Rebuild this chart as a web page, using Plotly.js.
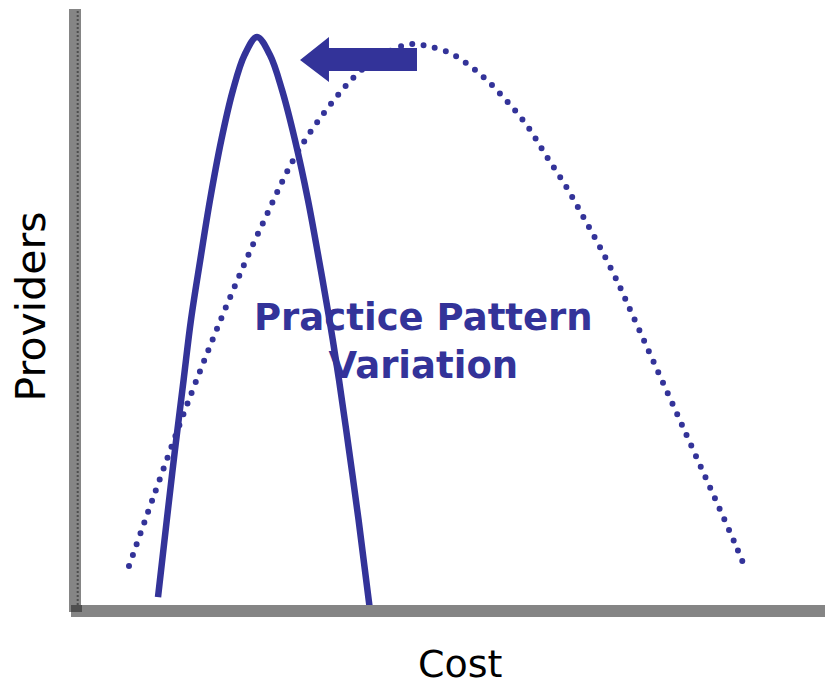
<!DOCTYPE html>
<html>
<head>
<meta charset="utf-8">
<script src="https://cdn.plot.ly/plotly-3.0.1.min.js"></script>
<style>
  html, body { margin: 0; padding: 0; background: #ffffff; }
  #chart { width: 825px; height: 685px; }
  /* round caps turn the zero-length dashes of the wider curve into dots */
  .scatterlayer .trace:nth-of-type(2) path.js-line { stroke-linecap: round; }
</style>
</head>
<body>
<div id="chart"></div>
<script>
// Narrow distribution: provider counts by cost after the shift
const narrowCost = [10.35, 11.53, 12.63, 13.79, 14.78, 16.03, 17.34, 18.86, 20.43, 21.98, 23.66,
                    25.40, 27.02, 28.76, 30.51, 31.99, 33.40, 34.68, 36.02, 37.31, 38.84];
const narrowProviders = [1.34, 14.26, 26.01, 37.75, 47.82, 57.89, 67.95, 78.02, 86.41, 92.28, 95.30,
                         92.28, 86.41, 78.02, 67.95, 57.89, 47.82, 37.75, 26.01, 14.26, -0.84];

// Wide distribution: current practice pattern variation
const wideCost = [6.45, 9.68, 14.65, 19.49, 24.33, 29.70, 36.56, 39.92, 41.80, 43.55,
                  44.89, 46.51, 49.60, 53.63, 56.99, 60.08, 62.63, 65.32, 67.74, 70.03,
                  72.18, 73.52, 80.78, 88.04, 89.25];
const wideProviders = [6.54, 17.95, 34.9, 50.0, 63.76, 77.18, 88.42, 91.78, 93.12, 93.96,
                       94.13, 93.79, 92.62, 89.09, 84.90, 80.20, 75.17, 69.97, 64.60, 59.40,
                       54.03, 50.34, 30.20, 9.90, 6.21];

// Labels
const xLabel = 'Cost';
const yLabel = 'Providers';
const centerLabel = 'Practice Pattern<br>Variation';

const BLUE = '#333399';
const AXIS_GRAY = '#858585';

const traces = [
  {
    x: narrowCost, y: narrowProviders,
    type: 'scatter', mode: 'lines',
    line: { color: BLUE, width: 6.5, shape: 'spline', smoothing: 1 },
    hoverinfo: 'skip'
  },
  {
    x: wideCost, y: wideProviders,
    type: 'scatter', mode: 'lines',
    line: { color: BLUE, width: 6, shape: 'spline', smoothing: 1, dash: '0px,11.5px' },
    hoverinfo: 'skip'
  }
];

const hiddenAxis = {
  range: [0, 100], showgrid: false, zeroline: false, showline: false,
  showticklabels: false, ticks: '', fixedrange: true
};

const layout = {
  width: 825, height: 685,
  margin: { l: 81, r: 0, t: 9, b: 80 },
  paper_bgcolor: '#ffffff', plot_bgcolor: '#ffffff',
  showlegend: false,
  xaxis: Object.assign({}, hiddenAxis),
  yaxis: Object.assign({}, hiddenAxis),
  shapes: [
    // leftward shift arrow
    {
      type: 'path', xref: 'x', yref: 'y', layer: 'above',
      path: 'M 29.44 91.44 L 33.33 95.30 L 33.33 93.46 L 45.16 93.46 L 45.16 89.60 L 33.33 89.60 L 33.33 87.75 Z',
      fillcolor: BLUE, line: { width: 0 }
    },
    // vertical axis bar
    {
      type: 'rect', xref: 'paper', yref: 'paper', layer: 'above',
      x0: -0.01613, x1: 0, y0: -0.01174, y1: 1,
      fillcolor: AXIS_GRAY, line: { width: 0 }
    },
    {
      type: 'line', xref: 'paper', yref: 'paper', layer: 'above',
      x0: -0.00444, x1: -0.00444, y0: 0, y1: 1,
      line: { color: '#4d4d4d', width: 2, dash: '2px,2px' }
    },
    // horizontal axis bar
    {
      type: 'rect', xref: 'paper', yref: 'paper', layer: 'above',
      x0: -0.01344, x1: 1, y0: -0.02013, y1: 0,
      fillcolor: AXIS_GRAY, line: { width: 0 }
    },
    // corner where the bars overlap
    {
      type: 'rect', xref: 'paper', yref: 'paper', layer: 'above',
      x0: -0.01344, x1: 0.00134, y0: -0.01174, y1: 0,
      fillcolor: '#4f4f4f', line: { width: 0 }
    }
  ],
  annotations: [
    {
      text: centerLabel, xref: 'paper', yref: 'paper',
      x: 0.4597, y: 0.4421, xanchor: 'center', yanchor: 'middle',
      showarrow: false, align: 'center',
      font: { family: 'DejaVu Sans', size: 37, color: BLUE, weight: 'bold' }
    },
    {
      text: xLabel, xref: 'paper', yref: 'paper',
      x: 0.5094, y: -0.0982, xanchor: 'center', yanchor: 'middle',
      showarrow: false,
      font: { family: 'DejaVu Sans', size: 38, color: '#000000' }
    },
    {
      text: yLabel, xref: 'paper', yref: 'paper',
      x: -0.0685, y: 0.5008, xanchor: 'center', yanchor: 'middle',
      showarrow: false, textangle: -90,
      font: { family: 'DejaVu Sans', size: 41, color: '#000000' }
    }
  ]
};

Plotly.newPlot('chart', traces, layout, { staticPlot: true, displayModeBar: false });
</script>
</body>
</html>
